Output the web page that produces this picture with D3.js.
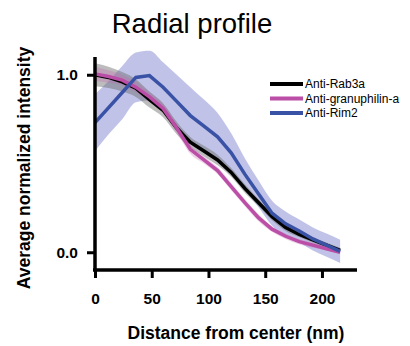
<!DOCTYPE html>
<html>
<head>
<meta charset="utf-8">
<script src="https://cdn.jsdelivr.net/npm/d3@7"></script>
<style>
  body { margin: 0; background: #fff; }
  svg text { font-family: "Liberation Sans", Arial, sans-serif; }
</style>
</head>
<body>
<div id="graph"></div>
<script>
// distance from center (nm)
var distances = [0, 12, 24, 36, 48, 60, 72, 84, 96, 108, 120, 132, 144, 156, 168, 180, 192, 204, 216];

var rab3a      = [1.0, 0.985, 0.96, 0.925, 0.86, 0.80, 0.70, 0.62, 0.57, 0.52, 0.45, 0.36, 0.28, 0.20, 0.14, 0.10, 0.07, 0.04, 0.01];
var rab3aErr   = [0.065, 0.06, 0.055, 0.05, 0.045, 0.04, 0.035, 0.03, 0.03, 0.03, 0.025, 0.025, 0.02, 0.02, 0.02, 0.015, 0.015, 0.015, 0.015];
var granu      = [1.005, 0.99, 0.97, 0.93, 0.875, 0.81, 0.70, 0.58, 0.52, 0.46, 0.37, 0.28, 0.195, 0.13, 0.09, 0.06, 0.04, 0.02, 0.0];
var granuErr   = [0.04, 0.035, 0.03, 0.03, 0.025, 0.025, 0.025, 0.025, 0.02, 0.02, 0.02, 0.02, 0.02, 0.015, 0.015, 0.015, 0.015, 0.01, 0.01];
var rim2       = [0.73, 0.815, 0.90, 0.985, 0.995, 0.93, 0.85, 0.77, 0.71, 0.65, 0.56, 0.44, 0.33, 0.22, 0.16, 0.12, 0.075, 0.04, 0.005];
var rim2Err    = [0.16, 0.15, 0.15, 0.14, 0.14, 0.14, 0.15, 0.16, 0.15, 0.135, 0.11, 0.09, 0.075, 0.07, 0.07, 0.065, 0.065, 0.065, 0.065];

var xTicks = [0, 50, 100, 150, 200];
var yTicks = [0, 1];
var seriesNames = ["Anti-Rab3a", "Anti-granuphilin-a", "Anti-Rim2"];

var width = 410, height = 346;

var x = d3.scaleLinear().domain([0, 230]).range([95, 356]);
var y = d3.scaleLinear().domain([-0.1, 1.1]).range([270, 57]);

var svg = d3.select("#graph").append("svg")
    .attr("width", width)
    .attr("height", height);

// Build series table
var series = [
    {name: seriesNames[0], values: rab3a, err: rab3aErr, color: "#000000", band: "#6b6b6b", bandOpacity: 0.45},
    {name: seriesNames[1], values: granu, err: granuErr, color: "#bb4ea6", bandOpacity: 0.3, band: "#c766b4"},
    {name: seriesNames[2], values: rim2, err: rim2Err, color: "#3a52a6", band: "#8188cf", bandOpacity: 0.5}
];
series.forEach(function(s) {
    s.points = distances.map(function(d, i) {
        return {x: d, y: s.values[i], e: s.err[i]};
    });
});

var area = d3.area()
    .x(function(p) { return x(p.x); })
    .y0(function(p) { return y(p.y - p.e); })
    .y1(function(p) { return y(p.y + p.e); })
    .curve(d3.curveMonotoneX);

var line = d3.line()
    .x(function(p) { return x(p.x); })
    .y(function(p) { return y(p.y); })
    .curve(d3.curveLinear);

// bands: blue first so darker ones sit on top
[series[2], series[0], series[1]].forEach(function(s) {
    svg.append("path")
        .attr("d", area(s.points))
        .attr("fill", s.band)
        .attr("fill-opacity", s.bandOpacity);
});

// lines
[series[0], series[1], series[2]].forEach(function(s) {
    svg.append("path")
        .attr("d", line(s.points))
        .attr("fill", "none")
        .attr("stroke", s.color)
        .attr("stroke-width", 3.5)
        .attr("stroke-linejoin", "miter");
});

// Axes
var xAxis = svg.append("g")
    .attr("transform", "translate(0,270)")
    .call(d3.axisBottom(x).tickValues(xTicks).tickSizeOuter(0).tickSize(8).tickPadding(15));
xAxis.select(".domain").attr("d", "M93,0H357").attr("stroke-width", 3.5);
xAxis.selectAll(".tick line").attr("stroke-width", 3);
xAxis.selectAll(".tick text")
    .attr("font-size", 15.5).attr("font-weight", "bold").attr("fill", "#000")
    .style("font-family", "Liberation Sans, Arial, sans-serif");

var yAxis = svg.append("g")
    .attr("transform", "translate(95,0)")
    .call(d3.axisLeft(y).tickValues(yTicks).tickFormat(d3.format(".1f")).tickSizeOuter(0).tickSize(8).tickPadding(9));
yAxis.select(".domain").attr("d", "M0,57V271").attr("stroke-width", 3.5);
yAxis.selectAll(".tick line").attr("stroke-width", 3);
yAxis.selectAll(".tick text")
    .attr("font-size", 15.5).attr("font-weight", "bold").attr("fill", "#000")
    .style("font-family", "Liberation Sans, Arial, sans-serif");

// Titles
svg.append("text")
    .attr("x", 192).attr("y", 33)
    .attr("text-anchor", "middle")
    .attr("font-size", 27.5)
    .text("Radial profile");

svg.append("text")
    .attr("x", 236).attr("y", 339)
    .attr("text-anchor", "middle")
    .attr("font-size", 17.5)
    .attr("font-weight", "bold")
    .text("Distance from center (nm)");

svg.append("text")
    .attr("transform", "translate(30,168) rotate(-90)")
    .attr("text-anchor", "middle")
    .attr("font-size", 17.5)
    .attr("font-weight", "bold")
    .text("Average normalized intensity");

// Legend
var legend = svg.append("g");
series.forEach(function(s, i) {
    var ly = 84 + i * 14.5;
    legend.append("line")
        .attr("x1", 270).attr("x2", 303)
        .attr("y1", ly).attr("y2", ly)
        .attr("stroke", s.color)
        .attr("stroke-width", 4);
    legend.append("text")
        .attr("x", 305).attr("y", ly)
        .attr("dy", "0.35em")
        .attr("font-size", 12)
        .text(s.name);
});
</script>
</body>
</html>
